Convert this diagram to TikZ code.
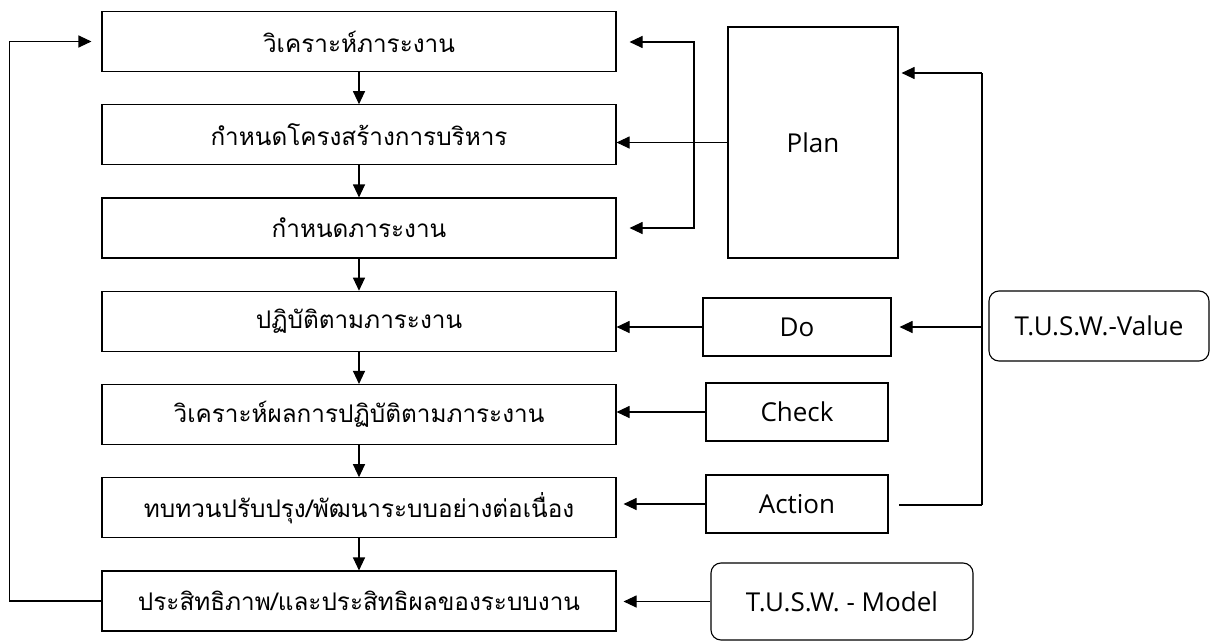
\documentclass[tikz,border=0pt]{standalone}
\usepackage{fontspec}
\setmainfont{Loma}[Script=Thai]
\newfontfamily\latinfont{Open Sans}
\usetikzlibrary{arrows.meta,positioning}

\begin{document}
\begin{tikzpicture}[x=1pt,y=-1pt,node distance=93.25pt,line width=1.1pt,
                    >={Triangle[length=13pt,width=12pt]},
                    task node/.style={draw,minimum width=514pt,minimum height=60pt,inner sep=0pt,font=\fontsize{24.3}{28}\selectfont},
                    pdca node/.style={draw,minimum width=182pt,minimum height=58pt,inner sep=0pt,font=\latinfont\fontsize{26}{30}\selectfont},
                    tusw node/.style={pdca node,rounded corners=10pt}]
 \useasboundingbox (0,0) rectangle (1211,642);

 % working steps
 \node[task node] (t1) at (359,41.5) {วิเคราะห์ภาระงาน};
 \node[task node] (t2) [below of=t1] {กำหนดโครงสร้างการบริหาร};
 \node[task node] (t3) [below of=t2] {กำหนดภาระงาน};
 \node[task node] (t4) [below of=t3] {ปฏิบัติตามภาระงาน};
 \node[task node] (t5) [below of=t4] {วิเคราะห์ผลการปฏิบัติตามภาระงาน};
 \node[task node] (t6) [below of=t5] {ทบทวนปรับปรุง/พัฒนาระบบอย่างต่อเนื่อง};
 \node[task node] (t7) [below of=t6] {ประสิทธิภาพ/และประสิทธิผลของระบบงาน};

 \path[->]
 (t1) edge (t2)
 (t2) edge (t3)
 (t3) edge (t4)
 (t4) edge (t5)
 (t5) edge (t6)
 (t6) edge (t7);

 % PDCA
 \node[pdca node,minimum width=170pt,minimum height=231pt] (plan) at (813,142.5) {Plan};
 \node[pdca node,minimum width=188pt] (do) at (797,327) {Do};
 \node[pdca node] (check) at (797,412) {Check};
 \node[pdca node] (action) at (797,504) {Action};

 \node[tusw node,minimum width=262pt,minimum height=77pt] (model) at (842,601.5) {T.U.S.W. - Model};
 \node[tusw node,minimum width=220pt,minimum height=70pt] (value) at (1099,326) {T.U.S.W.-Value};

 \coordinate (bt) at (694,42);
 \coordinate (bb) at (694,228);
 \coordinate (vt) at (982,73);
 \coordinate (vb) at (982,505);

 \draw[<->] ([xshift=13pt]t1.east |- bt) -- (bt) -- (bb) -- ([xshift=13pt]t3.east |- bb);
 \draw[->] (plan.west) -- (plan.west -| t2.east);

 \draw (vb) -- (vt);
 \draw[->] (vt) -- ([xshift=3pt]plan.east |- vt);
 \draw[->] (vt |- do) -- ([xshift=8pt]do.east);
 \draw (vb) -- ([xshift=10pt]action.east |- vb);

 \draw[->] (do.west) -- (do.west -| t4.east);
 \draw[->] (check.west) -- (check.west -| t5.east);
 \draw[->] (action.west) -- ([xshift=7pt]action.west -| t6.east);
 \draw[->] (model.west) -- ([xshift=7pt]model.west -| t7.east);

 % feedback loop
 \draw[->] (t7.west) -- ++(-92,0) |- ([xshift=-10pt]t1.west);
\end{tikzpicture}
\end{document}
